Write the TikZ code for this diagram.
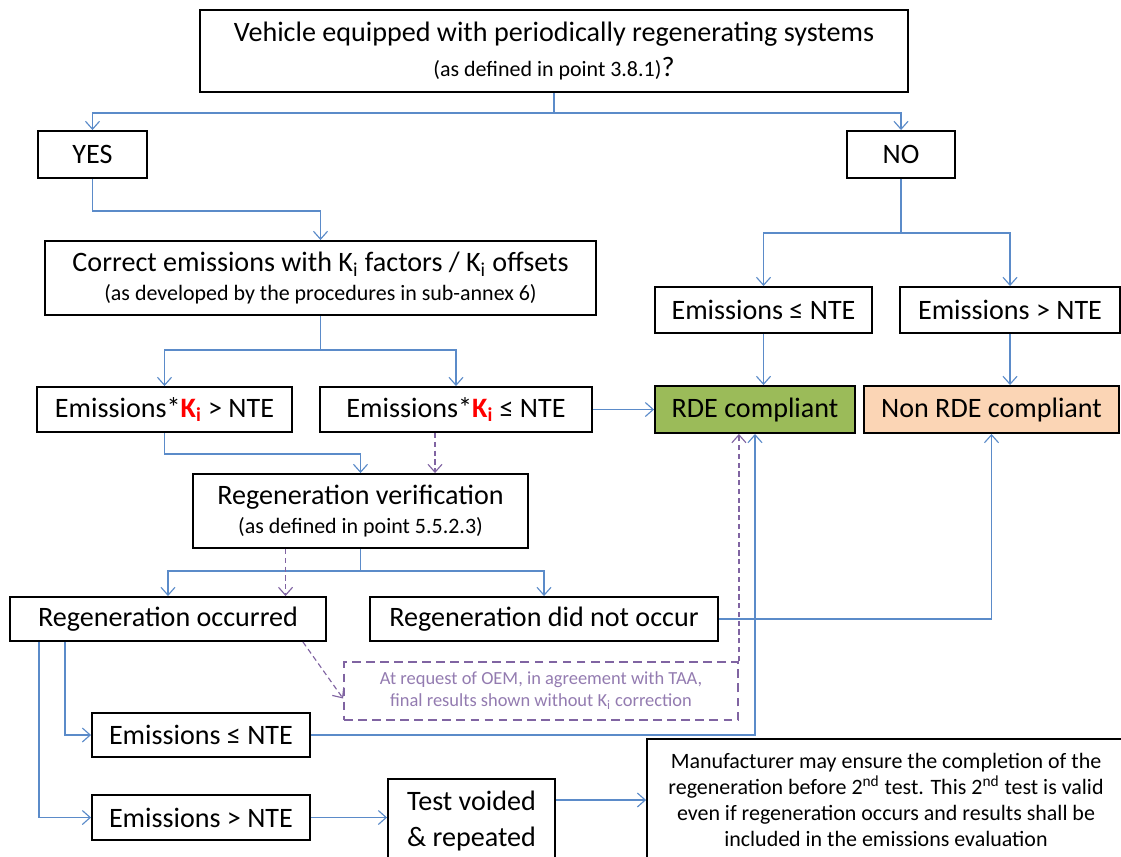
\documentclass[tikz,border=0pt]{standalone}
\usepackage{fontspec}
\setmainfont{Carlito}
\usetikzlibrary{arrows.meta}
\definecolor{flow}{HTML}{5B8BC9}
\definecolor{hint}{HTML}{8064A2}
\definecolor{ok}{HTML}{9BBB59}
\definecolor{notok}{HTML}{FBD5B5}
\newcommand{\Kx}{K\textsubscript{i}}
\newcommand{\Kred}{\textcolor{red}{\textbf{K\textsubscript{i}}}}
\newcommand{\smalltxt}{\fontsize{12.5}{15}\selectfont}

\begin{document}
\begin{tikzpicture}[x=0.02cm, y=0.02cm, >={Straight Barb[length=4.5pt,width=8pt]},
    box/.style={draw, line width=1.1pt, align=center, inner sep=0pt, font=\fontsize{16}{20}\selectfont},
    flowline/.style={draw=flow, line width=0.65pt},
    dashline/.style={draw=hint, line width=0.65pt, dash pattern=on 3pt off 2pt}]
    \useasboundingbox (0,0) rectangle (1121,-856);
    \node (top) [box, minimum width=14.16cm, minimum height=1.64cm] at (554,-51) {Vehicle equipped with periodically regenerating systems\\[0pt]{\smalltxt (as defined in point 3.8.1)}?};
    \node (yes) [box, minimum width=2.18cm, minimum height=0.94cm] at (92.5,-154.5) {YES};
    \node (no) [box, minimum width=2.16cm, minimum height=0.94cm] at (901,-154.5) {NO};
    \node (corr) [box, minimum width=11.02cm, minimum height=1.48cm] at (320.5,-278) {Correct emissions with \Kx{} factors / \Kx{} offsets\\[-4pt]{\smalltxt (as developed by the procedures in sub-annex 6)}};
    \node (kigt) [box, minimum width=5.10cm, minimum height=0.90cm] at (164.5,-409.5) {Emissions*\Kred{} > NTE};
    \node (kile) [box, minimum width=5.44cm, minimum height=0.90cm] at (456,-409.5) {Emissions*\Kred{} ≤ NTE};
    \node (nle) [box, minimum width=4.34cm, minimum height=0.92cm] at (763.5,-310) {Emissions ≤ NTE};
    \node (ngt) [box, minimum width=4.40cm, minimum height=0.92cm] at (1010,-310) {Emissions > NTE};
    \node (rde) [box, fill=ok, minimum width=4.00cm, minimum height=0.94cm] at (755,-409.5) {RDE compliant};
    \node (nonrde) [box, fill=notok, minimum width=5.10cm, minimum height=0.94cm] at (991.5,-409.5) {Non RDE compliant};
    \node (regv) [box, minimum width=6.70cm, minimum height=1.48cm] at (360.5,-511) {Regeneration verification\\[-4pt]{\smalltxt (as defined in point 5.5.2.3)}};
    \node (rocc) [box, minimum width=6.32cm, minimum height=0.88cm] at (168,-619) {Regeneration occurred};
    \node (rnot) [box, minimum width=6.96cm, minimum height=0.88cm] at (544,-619) {Regeneration did not occur};
    \node (dbox) [dashline, line width=1.1pt, dash pattern=on 5pt off 3pt, text=hint!85, align=center, inner sep=0pt, minimum width=7.88cm, minimum height=1.16cm, font=\fontsize{10.5}{12.5}\selectfont] at (541,-691) {At request of OEM, in agreement with TAA,\\final results shown without \Kx{} correction};
    \node (le2) [box, minimum width=4.36cm, minimum height=0.88cm] at (201,-735) {Emissions ≤ NTE};
    \node (gt2) [box, minimum width=4.36cm, minimum height=0.90cm] at (201,-817.5) {Emissions > NTE};
    \node (tv) [box, minimum width=3.34cm, minimum height=1.68cm] at (471.5,-821) {Test voided\\\& repeated};
    \node (manu) [box, minimum width=9.56cm, minimum height=2.44cm, font=\fontsize{12.5}{14.8}\selectfont] at (886,-800) {Manufacturer may ensure the completion of the\\regeneration before 2\textsuperscript{nd} test. This 2\textsuperscript{nd} test is valid\\even if regeneration occurs and results shall be\\included in the emissions evaluation};
    \coordinate (split1) at (554,-113);
    \coordinate (split2) at (320.5,-350);
    \coordinate (split3) at (901,-233);
    \coordinate (split4) at (360.5,-571);
    \draw[flowline] (top.south) -- (split1);
    \draw[flowline,->] (split1) -| (yes.north); \draw[flowline,->] (split1) -| (no.north);
    \draw[flowline,->] (yes.south) -- ++(0,-32) -| (corr.north);
    \draw[flowline] (corr.south) -- (split2);
    \draw[flowline,->] (split2) -| (kigt.north); \draw[flowline,->] (split2) -| (kile.north);
    \draw[flowline,->] (kile.east) -- (rde.west);
    \draw[flowline] (no.south) -- (split3);
    \draw[flowline,->] (split3) -| (nle.north); \draw[flowline,->] (split3) -| (ngt.north);
    \draw[flowline,->] (nle.south) -- (nle.south |- rde.north);
    \draw[flowline,->] (ngt.south) -- (ngt.south |- nonrde.north);
    \draw[flowline,->] (kigt.south) -- ++(0,-21) -| (regv.north);
    \draw[dashline,->] ([xshift=-0.42cm]kile.south) -- ([xshift=-0.42cm]kile.south |- regv.north);
    \draw[flowline] (regv.south) -- (split4);
    \draw[flowline,->] (split4) -| (rocc.north); \draw[flowline,->] (split4) -| (rnot.north);
    \draw[dashline,->] ([xshift=-1.5cm]regv.south) -- ([xshift=-1.5cm]regv.south |- rocc.north);
    \draw[flowline,->] (rnot.east) -| (nonrde.south);
    \draw[dashline,->] ([xshift=-0.48cm]rocc.south east) -- ([yshift=-0.15cm]dbox.west);
    \draw[dashline,->] (dbox.north east) -- (dbox.north east |- rde.south);
    \draw[flowline,->] (le2.east) -| (rde.south);
    \draw[flowline,->] ([xshift=1.12cm]rocc.south west) |- (le2.west);
    \draw[flowline,->] ([xshift=0.6cm]rocc.south west) |- (gt2.west);
    \draw[flowline,->] (gt2.east) -- (tv.west |- gt2.east);
    \draw[flowline,->] (tv.east |- manu.west) -- (manu.west);
  \end{tikzpicture}
\end{document}
